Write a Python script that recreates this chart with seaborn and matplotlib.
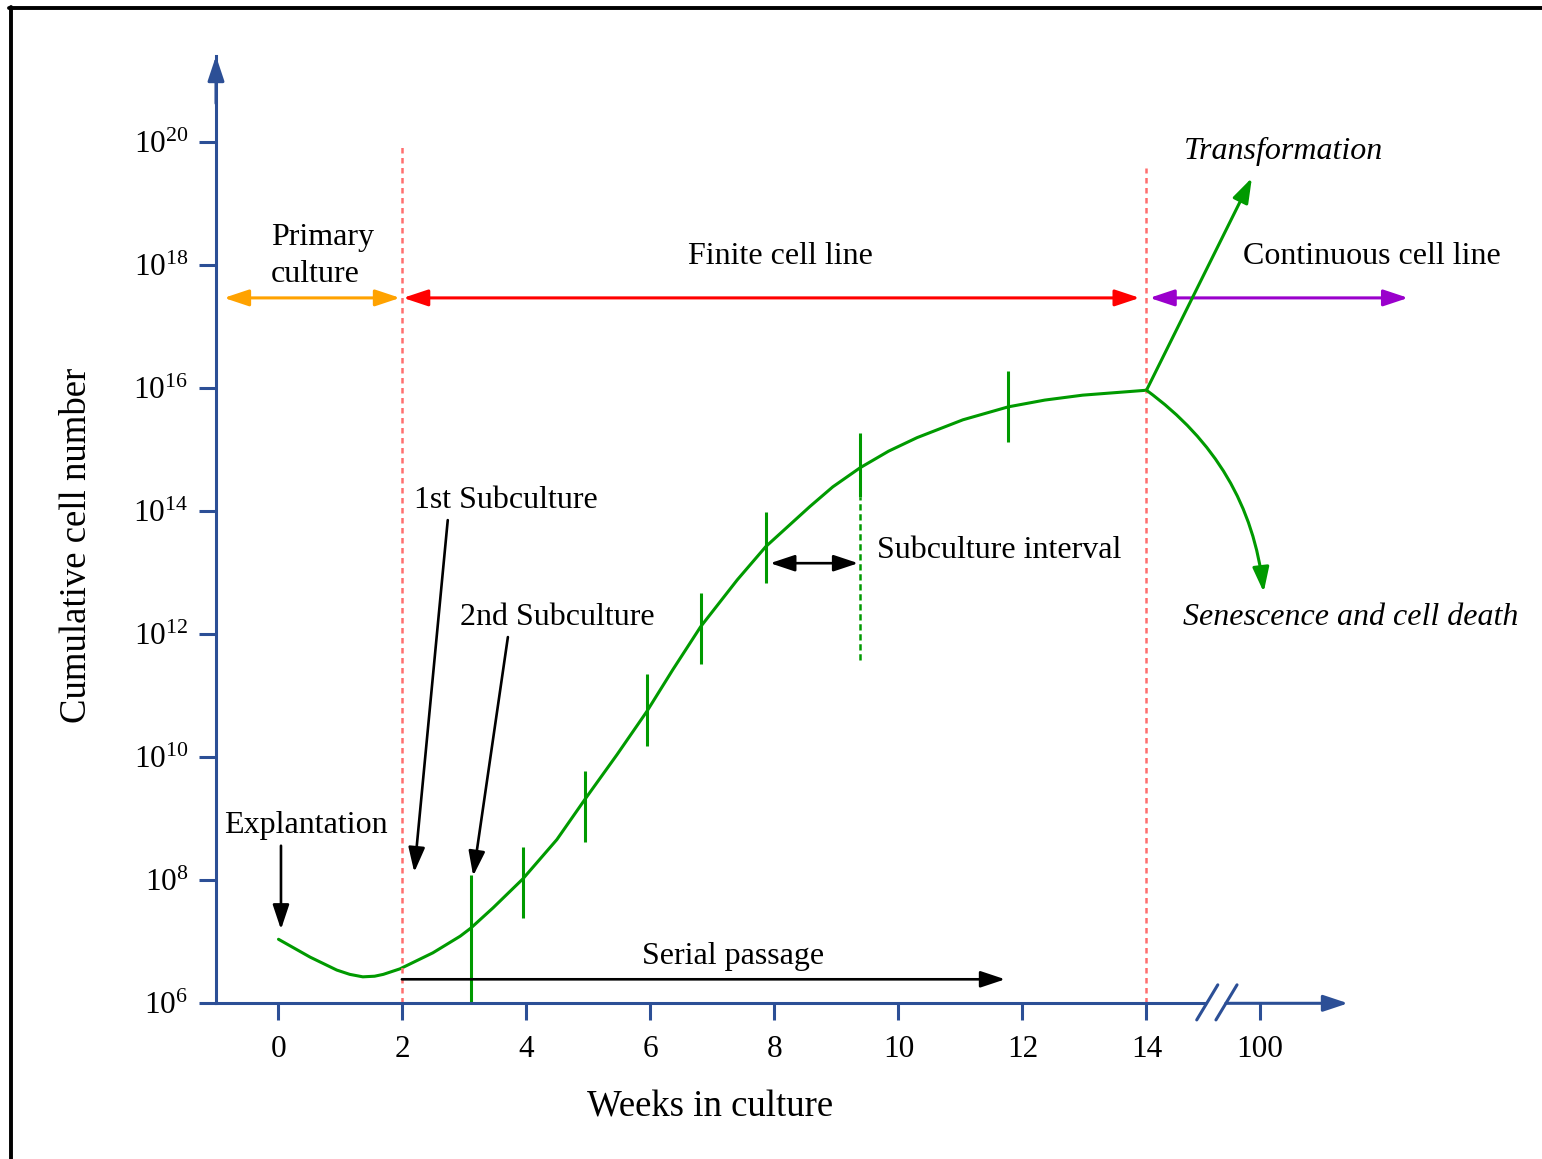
import numpy as np
import pandas as pd
import matplotlib
matplotlib.use('Agg')
import matplotlib.pyplot as plt
from matplotlib.lines import Line2D
import seaborn as sns

sns.set_style('white')
plt.rcParams['font.family'] = ['Liberation Serif', 'DejaVu Serif']
plt.rcParams['mathtext.fontset'] = 'custom'
plt.rcParams['mathtext.rm'] = 'Liberation Serif'
plt.rcParams['mathtext.it'] = 'Liberation Serif:italic'
plt.rcParams['text.color'] = 'black'
plt.rcParams['axes.labelcolor'] = 'black'

#################### DATA ####################
# growth curve: weeks in culture vs log10(cumulative cell number)
semanas = [0.0, 0.51, 0.94, 1.15, 1.36, 1.55, 1.69, 1.96, 2.49, 2.93, 3.10, 3.46, 3.94,
           4.49, 4.94, 5.46, 5.94, 6.36, 6.81, 7.40, 7.86, 8.57, 8.94, 9.38, 9.84, 10.30,
           11.04, 11.77, 12.36, 12.97, 14.0]
exponente = [7.04, 6.75, 6.54, 6.47, 6.43, 6.44, 6.47, 6.56, 6.82, 7.09, 7.22, 7.55, 8.02,
             8.66, 9.31, 10.04, 10.74, 11.42, 12.12, 12.88, 13.42, 14.07, 14.39, 14.70,
             14.97, 15.19, 15.48, 15.69, 15.80, 15.88, 15.96]

# subculture marks on the curve
sub_semana = [3.10, 3.94, 4.94, 5.94, 6.81, 7.86, 9.38, 11.77]
sub_inf = [6.0, 7.39, 8.62, 10.18, 11.51, 12.83, 14.23, 15.12]
sub_sup = [8.08, 8.54, 9.77, 11.35, 12.67, 13.98, 15.27, 16.28]

# phases along the top
fases = ['Primary\nculture', 'Finite cell line', 'Continuous cell line']
fase_inicio = [-0.88, 2.01, 14.05]
fase_fin = [1.96, 13.89, 18.22]
fase_limites = [2, 14]

# axis ticks
x_ticks = [0, 2, 4, 6, 8, 10, 12, 14, 15.83]
x_etiquetas = ['0', '2', '4', '6', '8', '10', '12', '14', '100']
y_exp = [6, 8, 10, 12, 14, 16, 18, 20]

# fates after week 14
fin_transformacion = (15.70, 19.41)
fin_senescencia = (15.89, 12.68)

AZUL = '#2c4f96'
VERDE = '#009a00'
ROJO_CLARO = '#ff6e6e'
colores_fases = ['#ffa200', '#ff0000', '#9a00cc']

W, H = 1542, 1159
fig = plt.figure(figsize=(W / 100, H / 100), dpi=100)
ax = fig.add_axes([216 / W, (H - 1003.3) / H, (1348 - 216) / W, (1003.3 - 56) / H])

df = pd.DataFrame({'Semana': semanas, 'Celulas': [10.0 ** e for e in exponente]})
sns.lineplot(data=df, x='Semana', y='Celulas', color=VERDE, lw=2.2, ax=ax,
             solid_joinstyle='round', solid_capstyle='round')
ax.set_yscale('log')
ax.set_xlim(-1.008, 17.25)
ax.set_ylim(1e6, 10 ** 21.39)

#################### AXES ####################
ax.set_xticks(x_ticks, x_etiquetas)
ax.set_yticks([10.0 ** e for e in y_exp], ['$10^{%d}$' % e for e in y_exp])
ax.minorticks_off()
ax.tick_params(axis='both', which='major', bottom=True, left=True, direction='out',
               length=12, width=2.2, color=AZUL, labelsize=22.5, labelcolor='black')
ax.tick_params(axis='x', pad=10.5)
ax.tick_params(axis='y', pad=8)
for s in ['top', 'right']:
    ax.spines[s].set_visible(False)
for s in ['left', 'bottom']:
    ax.spines[s].set_color(AZUL)
    ax.spines[s].set_linewidth(2.2)
ax.spines['bottom'].set_bounds(-1.008, 14.94)
ax.grid(False)

flecha_eje = dict(arrowstyle='-|>,head_length=0.6,head_width=0.2', mutation_scale=25,
                  color=AZUL, lw=2.2, shrinkA=0, shrinkB=0)
ax.annotate('', xy=(0, 1), xycoords='axes fraction', xytext=(0, 0.95),
            arrowprops=flecha_eje, annotation_clip=False)
ax.annotate('', xy=(17.25, 1e6), xytext=(15.28, 1e6), arrowprops=flecha_eje,
            annotation_clip=False)
# axis break
for x0 in (14.81, 15.12):
    ax.plot([x0, x0 + 0.34], [10 ** 5.73, 10 ** 6.30], color=AZUL, lw=2.2, clip_on=False)

ax.set_xlabel('Weeks in culture', fontsize=26.5, va='center', color='black')
ax.xaxis.set_label_coords((710 - 216) / 1132, (1003.3 - 1107) / 947.3)
ax.set_ylabel('Cumulative cell number', fontsize=26.5, va='center', color='black')
ax.yaxis.set_label_coords((77 - 216) / 1132, (1003.3 - 545) / 947.3)

#################### MARKS ####################
ax.vlines(fase_limites, 1e6, [10 ** 19.95, 10 ** 19.57], colors=ROJO_CLARO, lw=1.8,
          linestyles=(0, (2.2, 1.8)))
ax.vlines(sub_semana, [10.0 ** e for e in sub_inf], [10.0 ** e for e in sub_sup],
          colors=VERDE, lw=2.2)
ax.vlines(sub_semana[6], 10 ** 11.58, 10.0 ** sub_inf[6], colors=VERDE, lw=1.8,
          linestyles=(0, (2.5, 1.5)))

y_fase = 10 ** 17.46
for x0, x1, c in zip(fase_inicio, fase_fin, colores_fases):
    ax.annotate('', xy=(x1, y_fase), xytext=(x0, y_fase), annotation_clip=False,
                arrowprops=dict(arrowstyle='<|-|>,head_length=0.6,head_width=0.2',
                                mutation_scale=25, color=c, lw=2.2, shrinkA=0, shrinkB=0))

txt = dict(fontsize=23, color='black')
ax.text(-0.12, 10 ** 18.14, fases[0], ha='left', va='center', linespacing=1.35, **txt)
ax.text(8.10, 10 ** 18.125, fases[1], ha='center', va='center', **txt)
ax.text(15.56, 10 ** 18.125, fases[2], ha='left', va='center', clip_on=False, **txt)

# transformation / senescence
verde_fl = dict(arrowstyle='-|>,head_length=0.6,head_width=0.2', mutation_scale=25,
                color=VERDE, lw=2.2, shrinkA=0, shrinkB=0)
ax.annotate('', xy=(fin_transformacion[0], 10 ** fin_transformacion[1]),
            xytext=(semanas[-1], 10 ** exponente[-1]), arrowprops=verde_fl, annotation_clip=False)
ax.annotate('', xy=(fin_senescencia[0], 10 ** fin_senescencia[1]),
            xytext=(semanas[-1], 10 ** exponente[-1]), annotation_clip=False,
            arrowprops=dict(verde_fl, connectionstyle='arc3,rad=-0.22'))
ax.text(14.60, 10 ** 19.835, 'Transformation', style='italic', ha='left', va='center', **txt)
ax.text(14.59, 10 ** 12.275, 'Senescence and cell death', style='italic', ha='left',
        va='center', clip_on=False, **txt)

# black annotations
negra = dict(arrowstyle='-|>,head_length=0.6,head_width=0.2', mutation_scale=25,
             color='black', lw=1.9, shrinkA=0, shrinkB=0)
ax.annotate('', xy=(0.04, 10 ** 7.20), xytext=(0.04, 10 ** 8.56), arrowprops=negra)
ax.text(-0.88, 10 ** 8.885, 'Explantation', ha='left', va='center', **txt)
ax.annotate('', xy=(2.19, 10 ** 8.13), xytext=(2.73, 10 ** 13.85), arrowprops=negra)
ax.text(2.19, 10 ** 14.175, '1st Subculture', ha='left', va='center', **txt)
ax.annotate('', xy=(3.14, 10 ** 8.07), xytext=(3.70, 10 ** 11.95), arrowprops=negra)
ax.text(2.93, 10 ** 12.275, '2nd Subculture', ha='left', va='center', **txt)
ax.annotate('', xy=(9.35, 10 ** 13.15), xytext=(7.93, 10 ** 13.15),
            arrowprops=dict(negra, arrowstyle='<|-|>,head_length=0.6,head_width=0.2'))
ax.text(9.65, 10 ** 13.355, 'Subculture interval', ha='left', va='center', **txt)
ax.annotate('', xy=(11.72, 10 ** 6.39), xytext=(1.99, 10 ** 6.39), arrowprops=negra)
ax.text(7.33, 10 ** 6.755, 'Serial passage', ha='center', va='center', **txt)

# frame of the figure
fig.add_artist(Line2D([9 / W, 1], [1 - 8 / H, 1 - 8 / H], color='black', lw=2.8))
fig.add_artist(Line2D([10.5 / W, 10.5 / W], [0, 1 - 6.5 / H], color='black', lw=2.8))

fig.savefig('out.png', dpi=100)
